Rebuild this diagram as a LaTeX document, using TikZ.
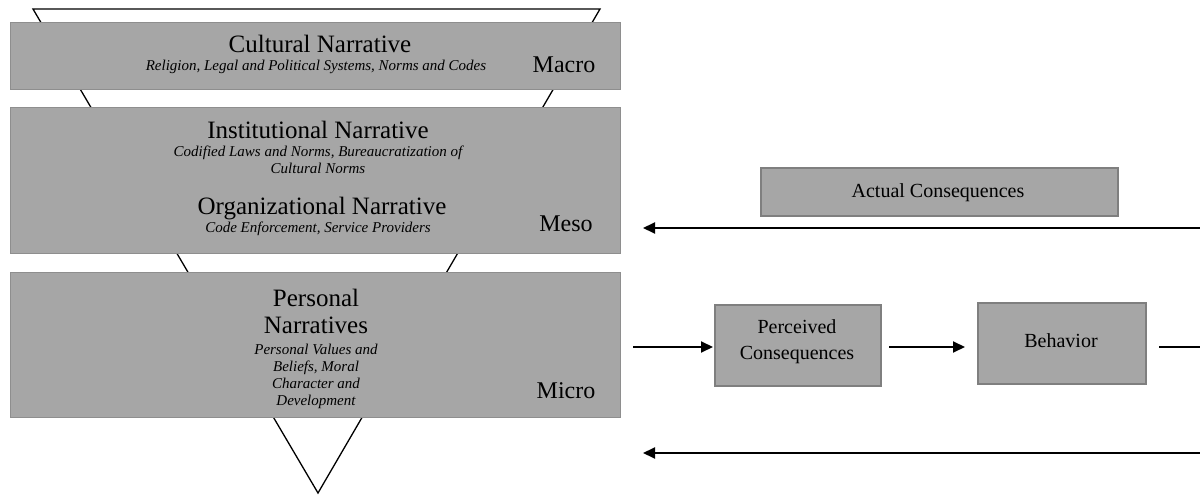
\documentclass[tikz,border=0pt]{standalone}
\usepackage{fontspec}
\setmainfont{Liberation Serif}
\usetikzlibrary{arrows.meta}
\definecolor{boxfill}{HTML}{A6A6A6}
\definecolor{boxline}{HTML}{8E8E8E}
\definecolor{boxline2}{HTML}{7F7F7F}
\newcommand{\fs}[2]{\fontsize{#1}{#2}\selectfont}
\tikzset{
  levelbox/.style={draw=boxline, fill=boxfill, line width=1.3pt, minimum width=610pt, inner sep=0pt, anchor=north west},
  flowbox/.style={draw=boxline2, fill=boxfill, line width=2pt, inner sep=0pt, anchor=north west},
  title/.style={inner sep=0pt, anchor=base, font=\fs{25}{27}, align=center},
  sub/.style={inner sep=0pt, anchor=base, font=\fs{15}{17}\itshape, align=center},
  lvl/.style={inner sep=0pt, anchor=base, font=\fs{24}{26}},
  flowtxt/.style={inner sep=0pt, anchor=base, font=\fs{20}{25}, align=center},
  arr/.style={line width=2pt, -{Triangle[length=12pt,width=11pt]}},
  plain/.style={line width=2pt}
}
\begin{document}
\begin{tikzpicture}[x=1pt,y=-1pt]
\useasboundingbox (0,0) rectangle (1200,497);
% inverted triangle
\coordinate (tl) at (33,9);
\coordinate (tr) at (600,9);
\coordinate (ap) at (318,493);
\draw[line width=1.3pt, fill=white, line join=miter] (tl) -- (tr) -- (ap) -- cycle;
% level boxes
\node[levelbox, minimum height=67pt] (cult) at (10,22) {};
\node[levelbox, minimum height=146pt] (inst) at (10,107) {};
\node[levelbox, minimum height=145pt] (pers) at (10,272) {};
% texts
\node[title] (culT) at (320,53) {Cultural Narrative};
\node[sub] (culS) at (316,71) {Religion, Legal and Political Systems, Norms and Codes};
\node[lvl] (macro) at (564,73) {Macro};
\node[title] (insT) at (318,139) {Institutional Narrative};
\node[sub] (insS) at (318,157) {Codified Laws and Norms, Bureaucratization of};
\node[sub] (insS2) at (318,174) {Cultural Norms};
\node[title] (orgT) at (322,215) {Organizational Narrative};
\node[sub] (orgS) at (318,233) {Code Enforcement, Service Providers};
\node[lvl] (meso) at (566,232) {Meso};
\node[title] (perT) at (316,306) {Personal};
\node[title] (perT2) at (316,334) {Narratives};
\node[sub] (perS1) at (316,354) {Personal Values and};
\node[sub] (perS2) at (316,371) {Beliefs, Moral};
\node[sub] (perS3) at (316,388) {Character and};
\node[sub] (perS4) at (316,405) {Development};
\node[lvl] (micro) at (566,398) {Micro};
% flow boxes
\node[flowbox, minimum width=357pt, minimum height=48pt] (act) at (760,167) {};
\node[flowtxt] (actT) at (938,198) {Actual Consequences};
\node[flowbox, minimum width=166pt, minimum height=81pt] (perc) at (714,304) {};
\node[flowtxt] (percT) at (797,359) {Perceived\\Consequences};
\node[flowbox, minimum width=168pt, minimum height=81pt] (beh) at (977,302) {};
\node[flowtxt] (behT) at (1061,347) {Behavior};
% connectors
\coordinate (inL) at (633,347);
\coordinate (outR) at (1200,347);
\coordinate (topR) at (1200,228);
\coordinate (topL) at (643,228);
\coordinate (botR) at (1200,453);
\coordinate (botL) at (643,453);
\draw[arr, shorten >=1pt] (inL) -- (inL -| perc.west);
\draw[arr, shorten <=7pt, shorten >=12pt] (perc.east |- inL) -- (beh.west |- inL);
\draw[plain, shorten <=12pt] (beh.east |- outR) -- (outR);
\draw[arr] (topR) -- (topL);
\draw[arr] (botR) -- (botL);
\end{tikzpicture}
\end{document}
